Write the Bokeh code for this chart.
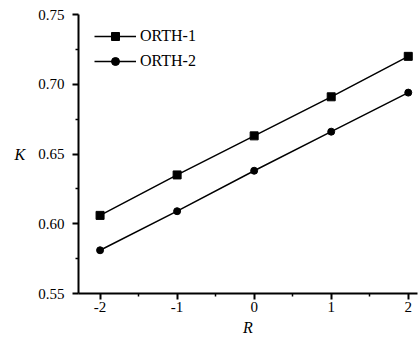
from bokeh.plotting import figure
from bokeh.models import Range1d, Legend, LegendItem, FixedTicker
from bokeh.embed import file_html
from bokeh.resources import INLINE

R = [-2, -1, 0, 1, 2]
orth1 = [0.606, 0.635, 0.663, 0.691, 0.720]
orth2 = [0.581, 0.609, 0.638, 0.666, 0.694]
x_ticks = [-2, -1, 0, 1, 2]
x_labels = {-2: "-2", -1: "-1", 0: "0", 1: "1", 2: "2"}
y_ticks = [0.55, 0.60, 0.65, 0.70, 0.75]
y_labels = {0.55: "0.55", 0.6: "0.60", 0.65: "0.65", 0.7: "0.70", 0.75: "0.75"}

p = figure(width=418, height=345, output_backend="svg", toolbar_location=None,
           x_range=Range1d(-2.28, 2.12), y_range=Range1d(0.55, 0.75),
           min_border_left=78, min_border_right=1, min_border_top=14, min_border_bottom=52)
p.outline_line_color = None
p.grid.visible = False
p.background_fill_color = "white"
p.border_fill_color = "white"

font = "'Liberation Serif', 'Times New Roman', serif"
l1 = p.line(R, orth1, line_color="black", line_width=1.5)
m1 = p.scatter(R, orth1, marker="square", size=8, color="black")
l2 = p.line(R, orth2, line_color="black", line_width=1.5)
m2 = p.scatter(R, orth2, marker="circle", size=7, color="black")

p.xaxis.ticker = FixedTicker(ticks=x_ticks, minor_ticks=[-1.5, -0.5, 0.5, 1.5])
p.yaxis.ticker = FixedTicker(ticks=y_ticks, minor_ticks=[0.575, 0.625, 0.675, 0.725])
p.xaxis.major_label_overrides = x_labels
p.yaxis.major_label_overrides = y_labels

for ax in (p.xaxis[0], p.yaxis[0]):
    ax.axis_line_width = 2
    ax.axis_line_color = "black"
    ax.major_tick_line_width = 2
    ax.major_tick_line_color = "black"
    ax.minor_tick_line_width = 1.5
    ax.minor_tick_line_color = "black"
    ax.major_tick_in = 0
    ax.major_tick_out = 6
    ax.minor_tick_in = 0
    ax.minor_tick_out = 3
    ax.major_label_text_font = font
    ax.major_label_text_font_size = "15px"
    ax.major_label_text_color = "black"
    ax.axis_label_text_font = font
    ax.axis_label_text_font_style = "italic"
    ax.axis_label_text_font_size = "16px"
    ax.axis_label_text_color = "black"

p.xaxis.axis_label = "R"
p.xaxis.axis_label_standoff = 4
p.xaxis.major_label_standoff = 2
p.yaxis.axis_label = "K"
p.yaxis.axis_label_orientation = "horizontal"
p.yaxis.axis_label_standoff = 10
p.yaxis.major_label_standoff = 8

legend = Legend(items=[LegendItem(label="ORTH-1", renderers=[l1, m1]),
                       LegendItem(label="ORTH-2", renderers=[l2, m2])],
                location=(16, 222))
legend.border_line_color = None
legend.background_fill_alpha = 0
legend.label_text_font = font
legend.label_text_font_size = "16px"
legend.label_text_color = "black"
legend.glyph_width = 42
legend.glyph_height = 20
legend.spacing = 5
legend.margin = 0
legend.padding = 0
legend.label_standoff = 4
p.add_layout(legend)

open("out.html", "w").write(file_html(p, INLINE))
